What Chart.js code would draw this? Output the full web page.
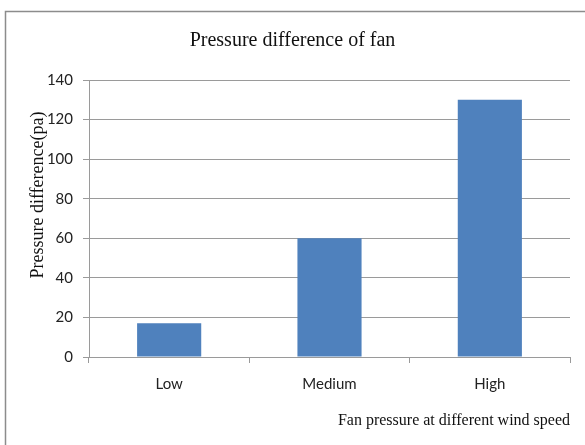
<!DOCTYPE html>
<html>
<head>
<meta charset="utf-8">
<script src="https://cdn.jsdelivr.net/npm/chart.js@4.4.1/dist/chart.umd.min.js"></script>
<style>
  body { margin: 0; background: #fff; }
  canvas { display: block; }
</style>
</head>
<body>
<canvas id="fanChart" width="585" height="445"></canvas>
<script>
const speedLabels = ['Low', 'Medium', 'High'];
const pressureDiff = [17, 60, 130];
const yMax = 140;
const yStep = 20;

const serif = 'Liberation Serif';
const sans = 'Lato';
const gridGrey = '#9a9a9a';

// the thin grey frame round the whole chart (right/bottom edges fall off the picture)
const framePlugin = {
  id: 'frame',
  beforeDraw(chart) {
    const ctx = chart.ctx;
    ctx.save();
    ctx.fillStyle = '#fff';
    ctx.fillRect(0, 0, chart.width, chart.height);
    ctx.strokeStyle = '#8c8c8c';
    ctx.lineWidth = 1.5;
    ctx.beginPath();
    ctx.moveTo(5.5, chart.height);
    ctx.lineTo(5.5, 11.5);
    ctx.lineTo(chart.width, 11.5);
    ctx.stroke();
    ctx.restore();
  }
};

const fanConfig = {
  type: 'bar',
  data: {
    labels: speedLabels,
    datasets: [
      {
        label: 'Pressure difference',
        data: pressureDiff,
        backgroundColor: '#4f81bd',
        borderWidth: 0,
        barPercentage: 0.4,
        categoryPercentage: 1.0
      }
    ]
  },
  options: {
    responsive: false,
    animation: false,
    layout: { padding: 0 },
    plugins: {
      legend: { display: false },
      tooltip: { enabled: false },
      title: {
        display: true,
        text: 'Pressure difference of fan',
        color: '#111',
        font: { family: serif, size: 20, weight: 'normal' },
        padding: { top: 29, bottom: 27 }
      }
    },
    scales: {
      x: {
        grid: {
          drawOnChartArea: false,
          drawTicks: true,
          tickLength: 6,
          color: gridGrey
        },
        border: { display: true, color: gridGrey },
        ticks: {
          color: '#222',
          padding: 12,
          font: { family: sans, size: 15 }
        },
        title: {
          display: true,
          text: 'Fan pressure at different wind speed',
          align: 'end',
          color: '#111',
          font: { family: serif, size: 16 },
          padding: { top: 0, bottom: 15 }
        },
        afterFit(scale) { scale.height = 88; }
      },
      y: {
        min: 0,
        max: yMax,
        ticks: {
          stepSize: yStep,
          color: '#222',
          padding: 10,
          font: { family: sans, size: 15 }
        },
        grid: {
          color: gridGrey,
          drawTicks: true,
          tickLength: 6
        },
        border: { display: true, color: gridGrey },
        title: {
          display: true,
          // trailing spaces push the rotated title down a little, as in the reference
          text: 'Pressure difference(pa)       ',
          align: 'end',
          color: '#111',
          font: { family: serif, size: 18 },
          padding: { top: 27, bottom: 0 }
        },
        afterFit(scale) { scale.width = 89; }
      },
      // empty spacer on the right so the plot ends where the reference does
      yRight: {
        position: 'right',
        display: true,
        grid: { display: false },
        border: { display: false },
        ticks: { display: false },
        afterFit(scale) { scale.width = 15; }
      }
    }
  },
  plugins: [framePlugin]
};

const fanChart = new Chart(document.getElementById('fanChart'), fanConfig);
</script>
</body>
</html>
